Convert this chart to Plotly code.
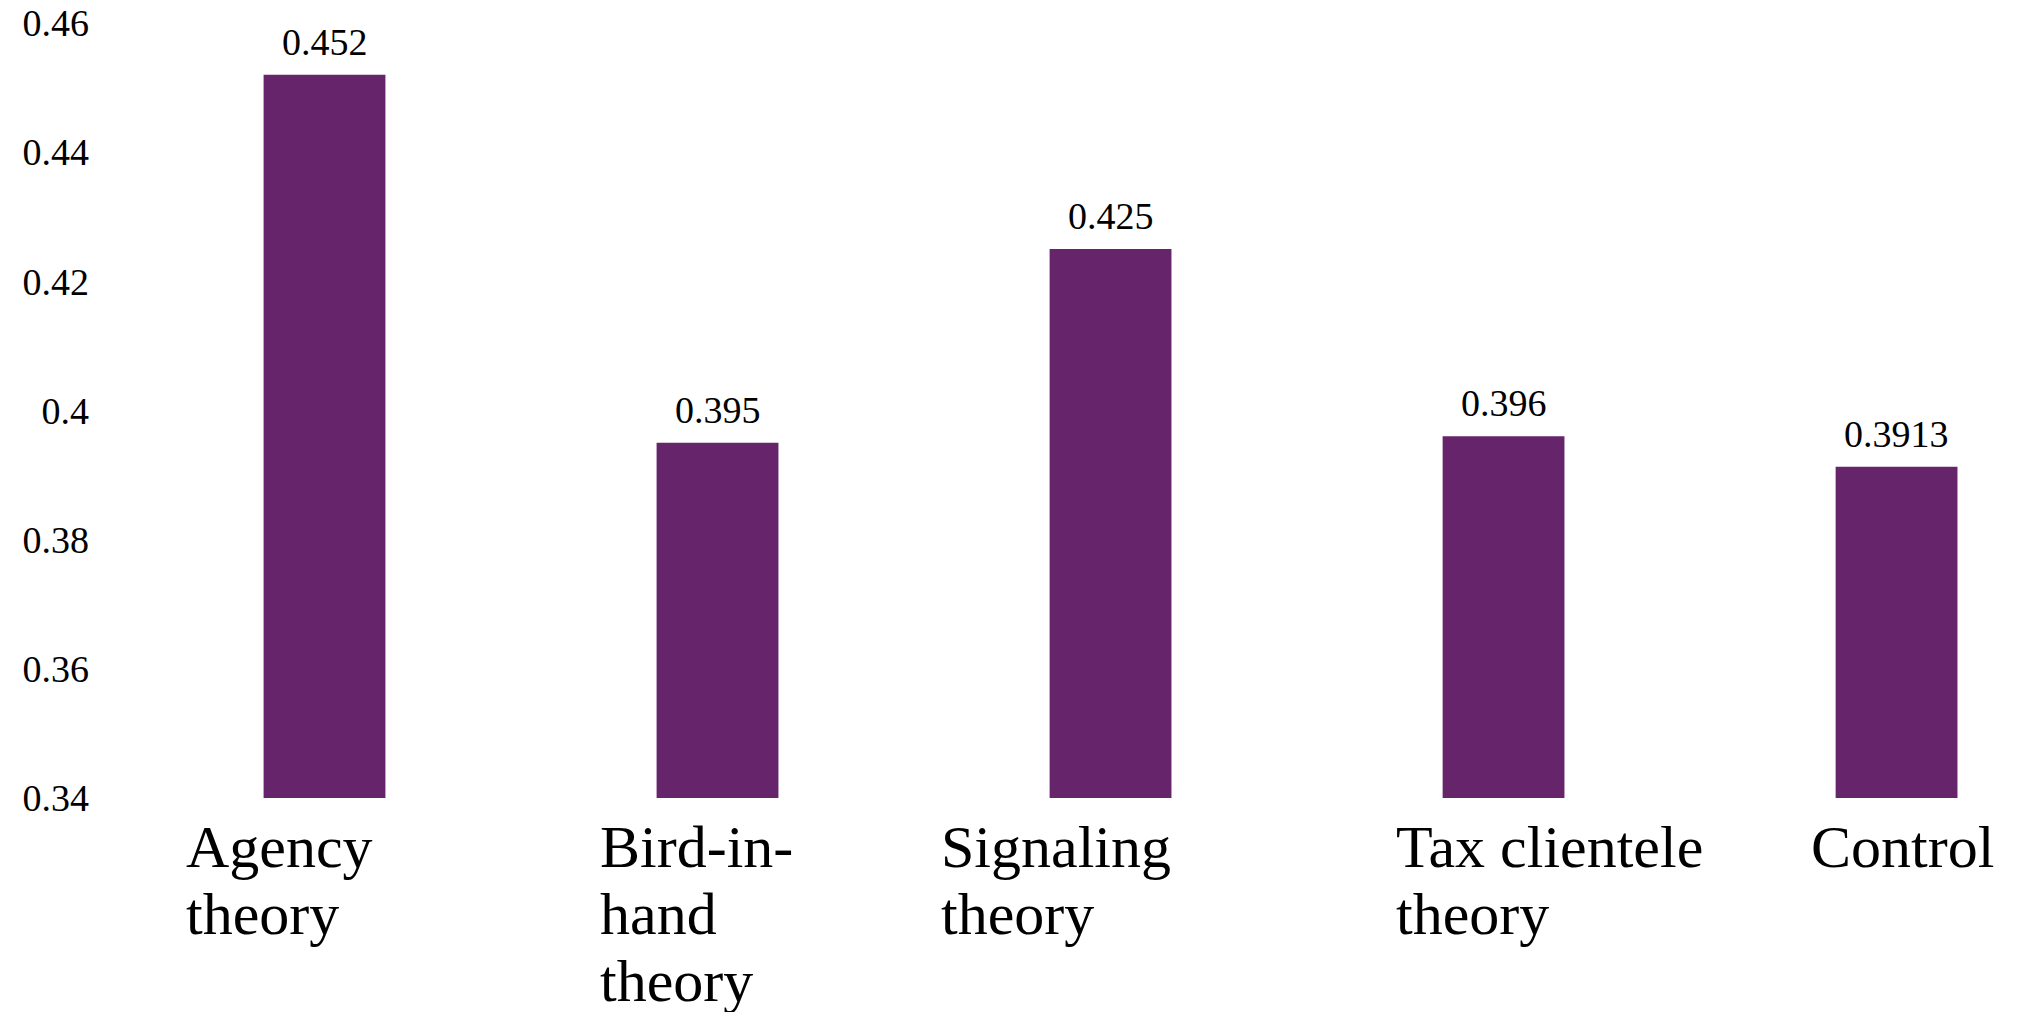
import plotly.graph_objects as go

categories = ["Agency<br>theory", "Bird-in-<br>hand<br>theory", "Signaling<br>theory",
              "Tax clientele<br>theory", "Control"]
values = [0.452, 0.395, 0.425, 0.396, 0.3913]
value_labels = ["0.452", "0.395", "0.425", "0.396", "0.3913"]
y_ticks = [0.34, 0.36, 0.38, 0.40, 0.42, 0.44, 0.46]
y_tick_labels = ["0.34", "0.36", "0.38", "0.4", "0.42", "0.44", "0.46"]

BAR_COLOR = "#66246A"
FONT = "Liberation Serif"
label_xshift = [-141, -120, -172, -110, -88]
LINE_PITCH = 67

x_idx = list(range(len(categories)))

fig = go.Figure()
fig.add_trace(go.Bar(x=x_idx, y=values, width=0.31, marker=dict(color=BAR_COLOR, line=dict(width=0)),
                     hoverinfo="skip"))

annotations = []
for i, (v, t) in enumerate(zip(values, value_labels)):
    annotations.append(dict(x=i, y=v, xref="x", yref="y", text=t, showarrow=False,
                            yanchor="bottom", xanchor="center", yshift=10,
                            font=dict(family=FONT, size=38, color="black")))
for i, cat in enumerate(categories):
    for k, line in enumerate(cat.split("<br>")):
        annotations.append(dict(x=i, y=0, xref="x", yref="paper", text=line, showarrow=False,
                                xanchor="left", yanchor="top", xshift=label_xshift[i],
                                yshift=-14 - k * LINE_PITCH, align="left",
                                font=dict(family=FONT, size=60, color="black")))

fig.update_layout(
    width=2029, height=1012,
    margin=dict(l=128, r=0, t=23, b=214),
    paper_bgcolor="white", plot_bgcolor="white",
    showlegend=False,
    annotations=annotations,
    xaxis=dict(range=[-0.5, 4.337], showticklabels=False, showgrid=False, zeroline=False,
               showline=False, ticks=""),
    yaxis=dict(range=[0.34, 0.46], tickvals=y_ticks, ticktext=y_tick_labels,
               showgrid=False, zeroline=False, showline=False, ticks="",
               ticklabelstandoff=38,
               tickfont=dict(family=FONT, size=38, color="black")),
)

fig.write_html("out.html")
